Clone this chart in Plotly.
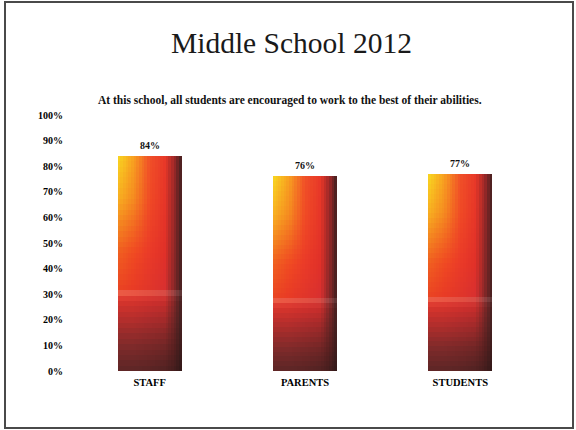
import plotly.graph_objects as go

# ---- data ----
categories = ["STAFF", "PARENTS", "STUDENTS"]
values = [0.84, 0.76, 0.77]
value_labels = ["84%", "76%", "77%"]
tick_values = [0, 0.1, 0.2, 0.3, 0.4, 0.5, 0.6, 0.7, 0.8, 0.9, 1.0]
tick_labels = ["0%", "10%", "20%", "30%", "40%", "50%", "60%", "70%", "80%", "90%", "100%"]
title_text = "Middle School 2012"
subtitle_text = "At this school, all students are encouraged to work to the best of their abilities."

# ---- gradient styling (vertical rows bottom->top, horizontal stops left->right) ----
h_stops = [0.0, 0.25, 0.5, 0.74, 0.88, 1.0]
rows = [
    (0.00, ["#5c2626", "#5c2626", "#582424", "#502222", "#441e1e", "#301818"]),
    (0.12, ["#802a2a", "#802a2a", "#7a2828", "#722626", "#5a2020", "#3a1c1c"]),
    (0.25, ["#b82e2c", "#b82e2c", "#b02c2c", "#a82a2a", "#722626", "#3e2020"]),
    (0.335, ["#dc362c", "#da342c", "#d4302c", "#cc2e2c", "#842828", "#402020"]),
    (0.355, ["#ec6a58", "#ea6656", "#e46050", "#d85a50", "#a05050", "#604040"]),
    (0.375, ["#ea4422", "#e83a25", "#e0352a", "#d83030", "#882828", "#402020"]),
    (0.55, ["#f06020", "#f04a22", "#ea3a28", "#e03028", "#902828", "#402020"]),
    (0.80, ["#f8b020", "#f58a20", "#f04a25", "#e63528", "#9a2828", "#402020"]),
    (1.00, ["#f8d820", "#f8a020", "#f05028", "#e83828", "#a02828", "#402020"]),
]


def hex2rgb(h):
    h = h.lstrip("#")
    return [int(h[i:i + 2], 16) for i in (0, 2, 4)]


def lerp(a, b, t):
    return [a[k] + (b[k] - a[k]) * t for k in range(3)]


def interp_stops(stops, cols, t):
    for k in range(len(stops) - 1):
        if stops[k] <= t <= stops[k + 1]:
            f = (t - stops[k]) / (stops[k + 1] - stops[k])
            return lerp(cols[k], cols[k + 1], f)
    return cols[-1]


def color_at(t, s):
    row_s = [r[0] for r in rows]
    row_c = [interp_stops(h_stops, [hex2rgb(c) for c in r[1]], t) for r in rows]
    c = interp_stops(row_s, row_c, s)
    return "rgb(%d,%d,%d)" % tuple(int(round(v)) for v in c)


bar_w = 0.412
N = 24   # vertical strips
M = 40   # horizontal bands
fig = go.Figure()
for j in range(M):
    f0, f1 = j / M, (j + 1) / M
    for i in range(N):
        t = (i + 0.5) / N
        s = (j + 0.5) / M
        fig.add_trace(go.Bar(
            x=categories,
            y=[v * (f1 - f0) * 1.02 for v in values] if j < M - 1 else [v * (f1 - f0) for v in values],
            base=[v * f0 for v in values],
            width=bar_w / N + 0.002 if i < N - 1 else bar_w / N,
            offset=-bar_w / 2 + i * bar_w / N,
            marker=dict(color=color_at(t, s), line=dict(width=0)),
            showlegend=False,
            hoverinfo="skip",
        ))

font_fam = "Liberation Serif"
annotations = [
    dict(text=title_text, xref="paper", yref="paper", x=(291 - 72) / 466,
         y=(371 - 43) / 256, showarrow=False, xanchor="center", yanchor="middle",
         font=dict(family=font_fam, size=29.5, color="#1a1a1a")),
    dict(text="<b>" + subtitle_text + "</b>", xref="paper", yref="paper",
         x=(290 - 72) / 466, y=(371 - 100) / 256, showarrow=False,
         xanchor="center", yanchor="middle",
         font=dict(family=font_fam, size=11.5, color="#111111")),
]
for c, v, lab in zip(categories, values, value_labels):
    annotations.append(dict(text="<b>" + lab + "</b>", x=c, y=v, xref="x", yref="y",
                            showarrow=False, xanchor="center", yanchor="bottom", yshift=3,
                            font=dict(family=font_fam, size=10, color="#111111")))

fig.update_layout(
    width=576, height=430,
    margin=dict(l=72, r=38, t=115, b=59),
    paper_bgcolor="white", plot_bgcolor="white",
    barmode="overlay", bargap=0,
    xaxis=dict(range=[-0.5, 2.5], showgrid=False, zeroline=False, showline=False,
               ticks="", tickvals=categories,
               ticktext=["<b>" + c + "</b>" for c in categories],
               tickfont=dict(family=font_fam, size=10.5, color="#000000"),
               ticklabelstandoff=3),
    yaxis=dict(range=[0, 1], tickvals=tick_values,
               ticktext=["<b>" + t + "</b>" for t in tick_labels],
               showgrid=False, zeroline=False, showline=False, ticks="",
               tickfont=dict(family=font_fam, size=10, color="#000000"),
               ticklabelstandoff=8),
    shapes=[dict(type="rect", xref="paper", yref="paper",
                 x0=(5 - 72) / 466, x1=(573 - 72) / 466,
                 y0=(371 - 428) / 256, y1=(371 - 2) / 256,
                 line=dict(color="#4a4a4a", width=2), fillcolor="rgba(0,0,0,0)",
                 layer="below")],
    annotations=annotations,
)

fig.write_html("out.html", config={"displayModeBar": False},
               post_script="document.body.style.margin='0';document.body.style.overflow='hidden';")
